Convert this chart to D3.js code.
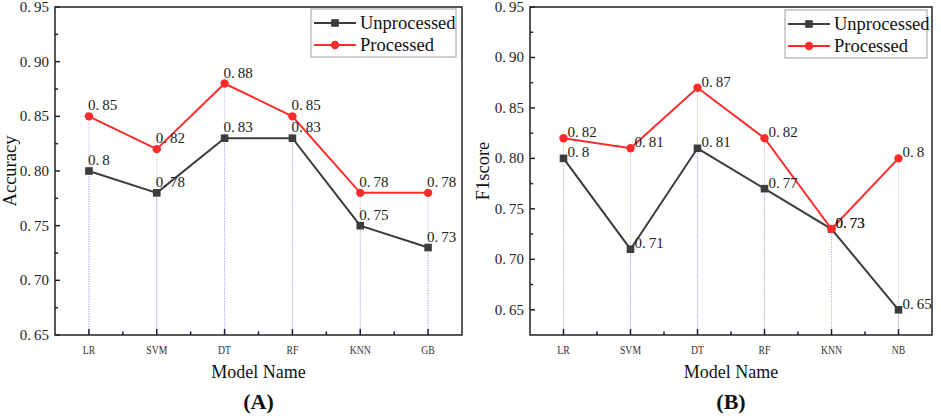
<!DOCTYPE html>
<html>
<head>
<meta charset="utf-8">
<script src="https://cdn.jsdelivr.net/npm/d3@7"></script>
<style>
  body { margin: 0; background: #fff; }
  svg { display: block; }
</style>
</head>
<body>
<svg id="chart" width="941" height="416"></svg>
<script>
// values
var modelsA = ["LR", "SVM", "DT", "RF", "KNN", "GB"];
var accUnprocessed = [0.80, 0.78, 0.83, 0.83, 0.75, 0.73];
var accProcessed = [0.85, 0.82, 0.88, 0.85, 0.78, 0.78];

var modelsB = ["LR", "SVM", "DT", "RF", "KNN", "NB"];
var f1Unprocessed = [0.80, 0.71, 0.81, 0.77, 0.73, 0.65];
var f1Processed = [0.82, 0.81, 0.87, 0.82, 0.73, 0.80];

var seriesNames = ["Unprocessed", "Processed"];
var yTicks = [0.65, 0.70, 0.75, 0.80, 0.85, 0.90, 0.95];

var dark = "#3d3d3d";
var red = "#ff2b2b";
var dropColor = "#aab8e2";
var serif = "'Liberation Serif', 'Times New Roman', serif";

var svg = d3.select("#chart");

// numbers are set like the original (wide gap after the point), text stays "0.85"
function numText(sel, str){
	var parts = str.split(".");
	sel.append("tspan").text(parts[0] + ".");
	if (parts.length > 1) sel.append("tspan").attr("dx", 3).text(parts[1]);
}

function drawPanel(p){
	var g = svg.append("g");

	var x = d3.scalePoint().domain(p.cats).range([p.x0, p.x1]).padding(0.5);
	var y = d3.scaleLinear().domain(p.yDomain).range([p.y1, p.y0]);
	var step = x.step();

	// drop lines from each point down to the axis
	p.series.forEach(function(s){
		g.selectAll(null).data(s.values).enter().append("line")
			.attr("x1", function(d,i){return x(p.cats[i]);})
			.attr("x2", function(d,i){return x(p.cats[i]);})
			.attr("y1", function(d){return y(d);})
			.attr("y2", p.y1)
			.attr("stroke", dropColor)
			.attr("stroke-width", 1)
			.attr("stroke-dasharray", "1,1.5");
	});

	// frame
	g.append("rect")
		.attr("x", p.x0).attr("y", p.y0)
		.attr("width", p.x1 - p.x0).attr("height", p.y1 - p.y0)
		.attr("fill", "none").attr("stroke", "#222").attr("stroke-width", 1.5);

	// bottom ticks (inward), major at categories and minor in between
	g.selectAll(null).data(p.cats).enter().append("line")
		.attr("x1", function(d){return x(d);}).attr("x2", function(d){return x(d);})
		.attr("y1", p.y1).attr("y2", p.y1 - 6)
		.attr("stroke", "#1c1c3c").attr("stroke-width", 1.5);
	g.selectAll(null).data(p.cats.slice(1)).enter().append("line")
		.attr("x1", function(d){return x(d) - step/2;}).attr("x2", function(d){return x(d) - step/2;})
		.attr("y1", p.y1).attr("y2", p.y1 - 3.5)
		.attr("stroke", "#1c1c3c").attr("stroke-width", 1.5);

	// left ticks (inward)
	var minor = [];
	for (var k = 0; k < yTicks.length - 1; k++) minor.push((yTicks[k] + yTicks[k+1]) / 2);
	g.selectAll(null).data(yTicks).enter().append("line")
		.attr("x1", p.x0).attr("x2", p.x0 + 5)
		.attr("y1", function(d){return y(d);}).attr("y2", function(d){return y(d);})
		.attr("stroke", "#222").attr("stroke-width", 1.5);
	g.selectAll(null).data(minor).enter().append("line")
		.attr("x1", p.x0).attr("x2", p.x0 + 3)
		.attr("y1", function(d){return y(d);}).attr("y2", function(d){return y(d);})
		.attr("stroke", "#222").attr("stroke-width", 1.5);

	g.selectAll(null).data(yTicks).enter().append("text")
		.attr("x", p.x0 - 6).attr("y", function(d){return y(d);})
		.attr("dy", "0.33em")
		.attr("text-anchor", "end")
		.style("font-family", serif).style("font-size", "15px").attr("fill", "#222")
		.each(function(d){ numText(d3.select(this), d3.format(".2f")(d)); });

	g.selectAll(null).data(p.cats).enter().append("text")
		.attr("x", function(d){return x(d);}).attr("y", 354)
		.attr("text-anchor", "middle")
		.style("font-family", serif).style("font-size", "13.5px").attr("fill", "#333")
		.attr("transform", function(d){return "translate(" + x(d) + ",0) scale(0.72,1) translate(" + (-x(d)) + ",0)";})
		.text(function(d){return d;});

	// series lines and markers
	var line = d3.line().x(function(d,i){return x(p.cats[i]);}).y(function(d){return y(d);});
	p.series.forEach(function(s){
		g.append("path").datum(s.values)
			.attr("d", line).attr("fill", "none")
			.attr("stroke", s.color).attr("stroke-width", 2);
		if (s.shape == "square") {
			g.selectAll(null).data(s.values).enter().append("rect")
				.attr("x", function(d,i){return x(p.cats[i]) - 3.8;})
				.attr("y", function(d){return y(d) - 3.8;})
				.attr("width", 7.6).attr("height", 7.6)
				.attr("fill", s.color);
		} else {
			g.selectAll(null).data(s.values).enter().append("circle")
				.attr("cx", function(d,i){return x(p.cats[i]);})
				.attr("cy", function(d){return y(d);})
				.attr("r", 4.2)
				.attr("fill", s.color);
		}
	});

	// data labels
	p.series.forEach(function(s){
		g.selectAll(null).data(s.values).enter().append("text")
			.attr("x", function(d,i){return x(p.cats[i]) + p.labelDx;})
			.attr("y", function(d){return y(d) + p.labelDy;})
			.style("font-family", serif).style("font-size", "15px").attr("fill", "#222")
			.each(function(d){ numText(d3.select(this), String(+d.toFixed(2))); });
	});

	// legend
	var lg = g.append("g");
	lg.append("rect")
		.attr("x", p.legend.x).attr("y", p.legend.y)
		.attr("width", p.legend.w).attr("height", 48)
		.attr("fill", "#fff").attr("stroke", "#a0a0a0").attr("stroke-width", 1);
	p.series.forEach(function(s, i){
		var ly = p.legend.y + 14 + i * 22;
		var lx = p.legend.x + 3;
		lg.append("line")
			.attr("x1", lx).attr("x2", lx + 42).attr("y1", ly).attr("y2", ly)
			.attr("stroke", s.color).attr("stroke-width", 2);
		if (s.shape == "square") {
			lg.append("rect").attr("x", lx + 21 - 3.8).attr("y", ly - 3.8)
				.attr("width", 7.6).attr("height", 7.6).attr("fill", s.color);
		} else {
			lg.append("circle").attr("cx", lx + 21).attr("cy", ly).attr("r", 4.2).attr("fill", s.color);
		}
		lg.append("text")
			.attr("x", lx + 46).attr("y", ly).attr("dy", "0.35em")
			.style("font-family", serif).style("font-size", "18.5px").attr("fill", "#111")
			.text(seriesNames[i]);
	});

	// titles
	var cx = (p.x0 + p.x1) / 2;
	g.append("text")
		.attr("x", cx).attr("y", 378).attr("text-anchor", "middle")
		.style("font-family", serif).style("font-size", "18px").attr("fill", "#111")
		.text("Model Name");
	g.append("text")
		.attr("x", cx).attr("y", 409).attr("text-anchor", "middle")
		.style("font-family", serif).style("font-size", "22px").style("font-weight", "bold").attr("fill", "#111")
		.text(p.tag);
	var ty = (p.y0 + p.y1) / 2;
	g.append("text")
		.attr("transform", "translate(" + p.titleX + "," + ty + ") rotate(-90)")
		.attr("text-anchor", "middle")
		.style("font-family", serif).style("font-size", "18.5px").attr("fill", "#111")
		.text(p.yTitle);
}

drawPanel({
	cats: modelsA, x0: 55, x1: 462, y0: 7, y1: 335, yDomain: [0.65, 0.95],
	series: [
		{values: accUnprocessed, color: dark, shape: "square"},
		{values: accProcessed, color: red, shape: "circle"}
	],
	labelDx: -1, labelDy: -6,
	legend: {x: 311, y: 9, w: 145},
	tag: "(A)", yTitle: "Accuracy", titleX: 16
});

drawPanel({
	cats: modelsB, x0: 530, x1: 932, y0: 7, y1: 335, yDomain: [0.625, 0.95],
	series: [
		{values: f1Unprocessed, color: dark, shape: "square"},
		{values: f1Processed, color: red, shape: "circle"}
	],
	labelDx: 4, labelDy: -1,
	legend: {x: 785, y: 10, w: 142},
	tag: "(B)", yTitle: "F1score", titleX: 489
});
</script>
</body>
</html>
